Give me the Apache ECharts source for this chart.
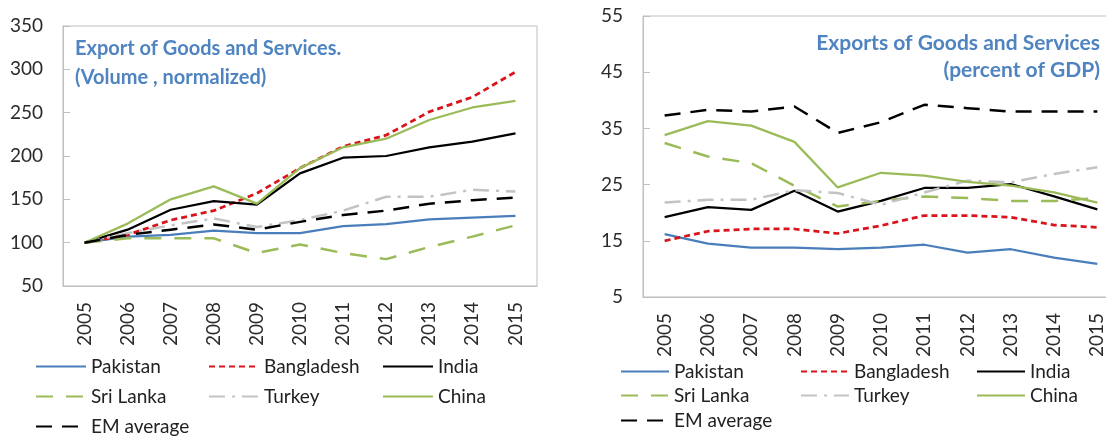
<!DOCTYPE html>
<html>
<head>
<meta charset="utf-8">
<script src="https://cdn.jsdelivr.net/npm/echarts@6/dist/echarts.min.js"></script>
<style>
html, body { margin: 0; padding: 0; background: #fff; overflow: hidden; }
/* the right plot frame runs past the page edge in the original, so the canvas is a bit wider than the window */
#chart { width: 1122px; height: 438px; }
</style>
</head>
<body>
<div id="chart"></div>
<script>
// years on both x axes
const years = ['2005', '2006', '2007', '2008', '2009', '2010', '2011', '2012', '2013', '2014', '2015'];
const seriesNames = ['Pakistan', 'Bangladesh', 'India', 'Sri Lanka', 'Turkey', 'China', 'EM average'];

// left panel: export volume, normalized (2005 = 100)
const volumeTicks = [50, 100, 150, 200, 250, 300, 350];
const volPakistan   = [100, 107, 109, 114, 111, 111, 119, 121.5, 127, 129, 131];
const volBangladesh = [100, 109, 126, 137, 157, 186, 211, 224, 251, 268, 297];
const volIndia      = [100, 115, 138, 148, 144, 180, 198, 200, 210, 216.5, 226];
const volSriLanka   = [100, 105, 105, 105, 88, 98, 88, 81, 95, 107, 120];
const volTurkey     = [100, 111, 120, 128, 118, 126, 137, 153, 153, 161, 159];
const volChina      = [100, 122, 150, 165, 145, 186, 210, 220, 241.5, 256, 263.5];
const volEmAverage  = [100, 109, 115, 121, 115, 124, 132, 137, 145, 149, 152];

// right panel: exports, percent of GDP
const gdpTicks = [5, 15, 25, 35, 45, 55];
const gdpPakistan   = [16.2, 14.5, 13.8, 13.8, 13.5, 13.8, 14.3, 12.9, 13.5, 12.0, 10.9];
const gdpBangladesh = [15.0, 16.7, 17.1, 17.1, 16.3, 17.7, 19.5, 19.5, 19.2, 17.8, 17.4];
const gdpIndia      = [19.2, 21.0, 20.5, 23.9, 20.2, 22.1, 24.4, 24.4, 25.1, 22.9, 20.6];
const gdpSriLanka   = [32.4, 30.0, 28.8, 24.8, 21.1, 22.1, 22.9, 22.6, 22.1, 22.1, 22.6];
const gdpTurkey     = [21.8, 22.3, 22.3, 24.0, 23.5, 21.4, 23.6, 25.7, 25.4, 26.9, 28.1];
const gdpChina      = [33.8, 36.3, 35.5, 32.6, 24.5, 27.1, 26.6, 25.5, 24.8, 23.6, 21.8];
const gdpEmAverage  = [37.3, 38.3, 38.0, 38.9, 34.2, 36.1, 39.2, 38.6, 38.0, 38.0, 38.0];

const volumeData = [volPakistan, volBangladesh, volIndia, volSriLanka, volTurkey, volChina, volEmAverage];
const gdpData = [gdpPakistan, gdpBangladesh, gdpIndia, gdpSriLanka, gdpTurkey, gdpChina, gdpEmAverage];

// Excel-ish look
const FONT = 'Lato, "Noto Sans", sans-serif';
const TITLE_COLOR = '#4f84c0';
const FRAME_COLOR = '#bfbfbf';
const LABEL_COLOR = '#2b2b2b';

const LINE_STYLES = {
	'Pakistan':   { color: '#4a7ebb', width: 2.25, type: 'solid' },
	'Bangladesh': { color: '#d9141b', width: 2.75, type: [6, 4] },
	'India':      { color: '#000000', width: 2.25, type: 'solid' },
	'Sri Lanka':  { color: '#9bbb59', width: 2.5, type: [17, 13] },
	'Turkey':     { color: '#c3c3c3', width: 2.5, type: [16, 7, 3, 7] },
	'China':      { color: '#9bbb59', width: 2.25, type: 'solid' },
	'EM average': { color: '#000000', width: 2.5, type: [16, 10] },
};

// legend slot (column, row) of each series
const LEGEND_SLOTS = [[0, 0], [1, 0], [2, 0], [0, 1], [1, 1], [2, 1], [0, 2]];

const PANELS = [
	{
		data: volumeData, ticks: volumeTicks,
		grid: { left: 63, top: 26, width: 474, height: 260 },
		legendCols: [35, 208, 382], legendRows: [368, 398, 428], iconWidth: 50,
	},
	{
		data: gdpData, ticks: gdpTicks,
		grid: { left: 643, top: 16, width: 476, height: 281 },
		legendCols: [620, 800, 976], legendRows: [373, 397, 422], iconWidth: 48,
	},
];

function makeAxes(panel, idx) {
	const t = panel.ticks;
	const xAxis = {
		type: 'category', gridIndex: idx, data: years, boundaryGap: true,
		axisLine: { lineStyle: { color: FRAME_COLOR } },
		axisTick: { inside: true, length: 8, lineStyle: { color: FRAME_COLOR } },
		axisLabel: { rotate: 90, interval: 0, margin: 16, fontSize: 19, color: LABEL_COLOR, fontFamily: FONT },
	};
	const yAxis = {
		type: 'value', gridIndex: idx, min: t[0], max: t[t.length - 1], interval: t[1] - t[0],
		axisLine: { show: true, lineStyle: { color: FRAME_COLOR } },
		axisTick: { show: true, inside: true, length: 7, lineStyle: { color: FRAME_COLOR } },
		splitLine: { show: false },
		axisLabel: { margin: 20, fontSize: 19, color: LABEL_COLOR, fontFamily: FONT },
	};
	return { xAxis, yAxis };
}

const grids = [], xAxes = [], yAxes = [], series = [], legends = [];
PANELS.forEach((panel, idx) => {
	grids.push(Object.assign({ show: true, borderColor: FRAME_COLOR, borderWidth: 1 }, panel.grid));
	const { xAxis, yAxis } = makeAxes(panel, idx);
	xAxes.push(xAxis);
	yAxes.push(yAxis);
	seriesNames.forEach((name, i) => {
		series.push({
			name,
			type: 'line',
			xAxisIndex: idx,
			yAxisIndex: idx,
			data: panel.data[i],
			symbol: 'none',
			silent: true,
			lineStyle: LINE_STYLES[name],
			itemStyle: { color: LINE_STYLES[name].color },
			z: 2 + i,
		});
		const [col, row] = LEGEND_SLOTS[i];
		legends.push({
			data: [name],
			left: panel.legendCols[col],
			top: panel.legendRows[row] - 11,
			padding: 0,
			itemWidth: panel.iconWidth,
			itemHeight: 12,
			selectedMode: false,
			// hide the circle marker, keep only the line sample
			itemStyle: { color: 'transparent', borderWidth: 0, opacity: 0 },
			textStyle: { fontSize: 19, color: '#222', fontFamily: FONT },
		});
	});
});

const titleText = (size) => ({ fontSize: size, fontWeight: 'bold', color: TITLE_COLOR, fontFamily: FONT, lineHeight: 28 });

const chart = echarts.init(document.getElementById('chart'), null, { renderer: 'canvas' });
chart.setOption({
	animation: false,
	title: [
		{ text: 'Export of Goods and Services.', left: 75, top: 35, padding: 0, textStyle: titleText(20) },
		{ text: '(Volume , normalized)', left: 75, top: 64, padding: 0, textStyle: titleText(20) },
		{ text: 'Exports of Goods and Services', right: 22, top: 29, padding: 0, textStyle: titleText(21) },
		{ text: '(percent of GDP)', right: 22, top: 56, padding: 0, textStyle: titleText(21) },
	],
	grid: grids,
	xAxis: xAxes,
	yAxis: yAxes,
	legend: legends,
	series,
});
</script>
</body>
</html>
